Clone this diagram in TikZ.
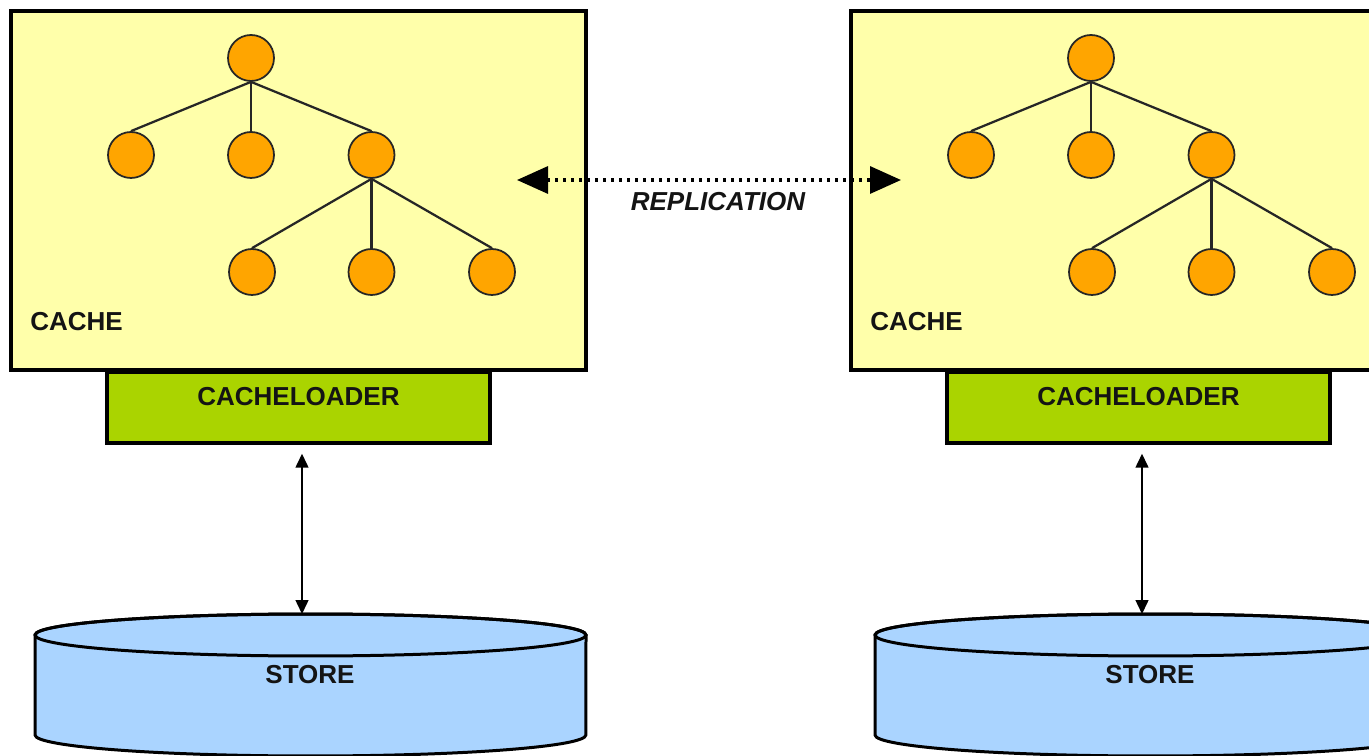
\documentclass[tikz,border=0pt]{standalone}
\usepackage{fontspec}
\setmainfont{Liberation Sans}
\usetikzlibrary{arrows.meta}
\definecolor{cachey}{RGB}{255,255,170}
\definecolor{loadg}{RGB}{170,212,0}
\definecolor{storeb}{RGB}{170,212,255}
\definecolor{nodeo}{RGB}{255,165,0}
\begin{document}
\begin{tikzpicture}[x=0.02cm, y=-0.02cm,
  lbl/.style={font=\fontsize{14.8}{17}\selectfont\bfseries, text=black!92},
  cache box/.style={draw, fill=cachey, line width=0.08cm, minimum width=11.5cm, minimum height=7.18cm, inner sep=0pt},
  loader box/.style={draw, fill=loadg, line width=0.07cm, minimum width=7.66cm, minimum height=1.42cm, inner sep=0pt, text depth=0.44cm, lbl},
  tree node/.style={circle, draw=black!85, fill=nodeo, line width=0.035cm, minimum size=0.92cm, inner sep=0pt},
  tree edge/.style={line width=0.045cm, draw=black!85},
  io arrow/.style={{Triangle[length=0.28cm,width=0.26cm]}-{Triangle[length=0.28cm,width=0.26cm]}, line width=0.03cm, shorten <=0.18cm},
  rep arrow/.style={{Triangle[length=0.62cm,width=0.54cm]}-{Triangle[length=0.62cm,width=0.54cm]}, line width=0.065cm, dash pattern=on 0.065cm off 0.095cm}]
\useasboundingbox (0,0) rectangle (1369,756);
\clip (0,0) rectangle (1369,756);
\foreach \s/\dx in {L/0,R/840}{
\begin{scope}[shift={(\dx,0)}]
\node[loader box] (load\s) at (298.5,407.5) {CACHELOADER};
\node[cache box] (cache\s) at (298.5,190.5) {};
\node[lbl, anchor=west, inner sep=0pt] (cname\s) at (30,322) {CACHE};
\node[tree node] (root\s) at (251,58) {};
\node[tree node] (a1\s) at (131,155) {};
\node[tree node] (a2\s) at (251,155) {};
\node[tree node] (a3\s) at (371.5,155) {};
\node[tree node] (b1\s) at (252,272) {};
\node[tree node] (b2\s) at (371.5,272) {};
\node[tree node] (b3\s) at (492,272) {};
\draw[tree edge] (root\s.south) -- (a1\s.north);
\draw[tree edge] (root\s.south) -- (a2\s.north);
\draw[tree edge] (root\s.south) -- (a3\s.north);
\draw[tree edge] (a3\s.south) -- (b1\s.north);
\draw[tree edge] (a3\s.south) -- (b2\s.north);
\draw[tree edge] (a3\s.south) -- (b3\s.north);
\draw[fill=storeb, line width=0.06cm] (35,635) -- (35,735) arc[start angle=180, end angle=360, x radius=5.51cm, y radius=0.42cm] -- (586,635) arc[start angle=0, end angle=180, x radius=5.51cm, y radius=0.42cm] -- cycle;
\draw[line width=0.06cm] (310.5,635) ellipse [x radius=5.51cm, y radius=0.42cm];
\coordinate (top\s) at (302,614);
\node[lbl] (store\s) at (310,675) {STORE};
\draw[io arrow] (top\s |- load\s.south) -- (top\s);
\end{scope}}
\coordinate (repL) at (517,180);
\coordinate (repR) at (901,180);
\draw[rep arrow] (repL) -- (repR);
\node[lbl, font=\fontsize{14.8}{17}\selectfont\bfseries\itshape] (reptext) at (718,202) {REPLICATION};
\end{tikzpicture}
\end{document}
